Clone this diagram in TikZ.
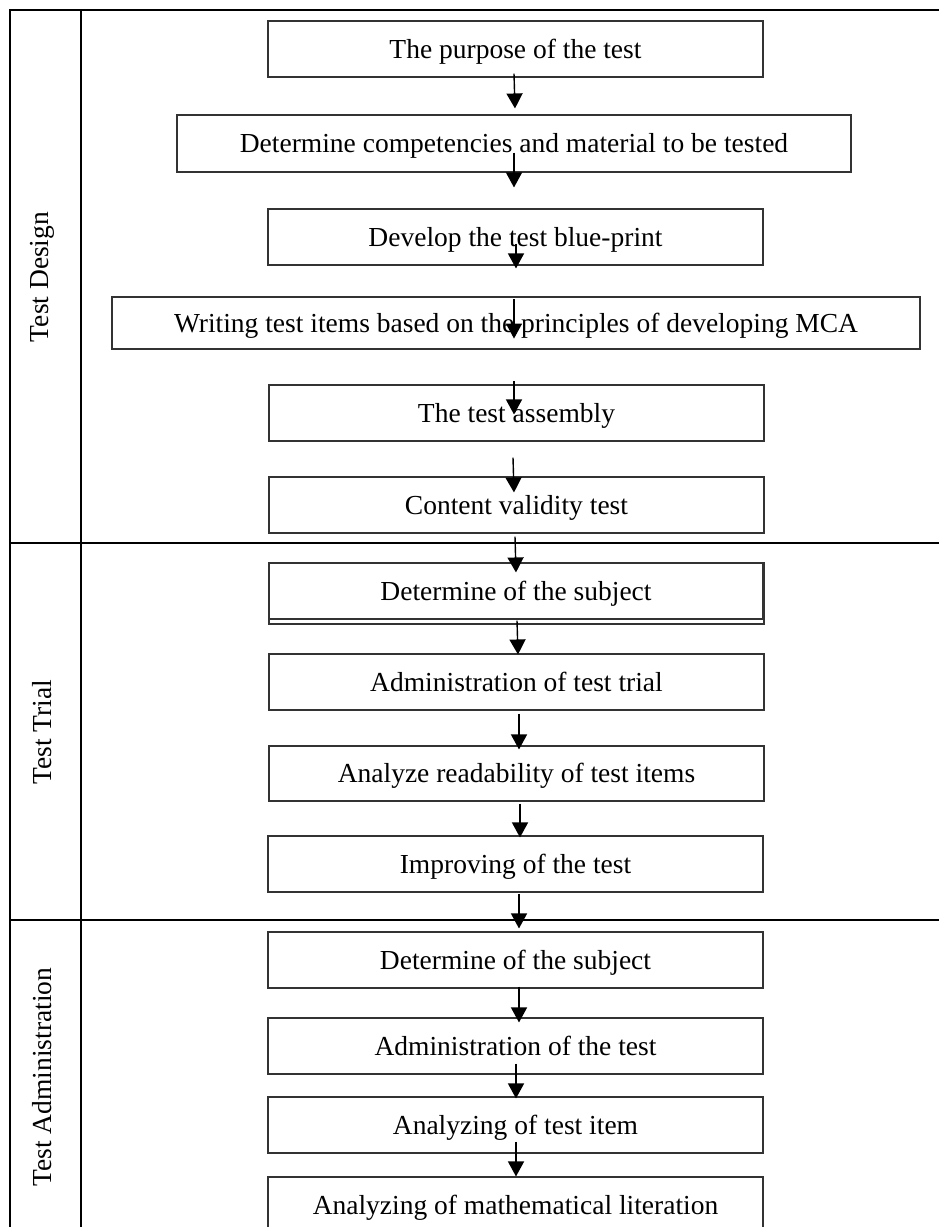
\documentclass[tikz,border=0pt]{standalone}
\usepackage{fontspec}
\setmainfont{Liberation Serif}
\usetikzlibrary{arrows.meta}
\begin{document}
\begin{tikzpicture}[x=1pt,y=-1pt,
  stepbox/.style={draw=black!80,line width=1.1pt,fill=white,inner sep=0pt,
    minimum height=56pt,text height=18.4pt,text depth=0pt,
    font=\fontsize{27.5}{33}\selectfont},
  narrow/.style={stepbox,minimum width=495pt},
  frame/.style={line width=1.7pt,black},
  arr/.style={line width=1.4pt,-{Triangle[length=15pt,width=16pt]}},
  lane/.style={rotate=90,font=\fontsize{27.5}{33}\selectfont,inner sep=0pt}]
\useasboundingbox (0,0) rectangle (939,1227);
\begin{scope}
\clip (0,0) rectangle (939,1227);
% frame
\draw[frame] (10,1227) -- (10,10) -- (939,10);
\draw[frame] (81,10) -- (81,1227);
\draw[frame] (10,543) -- (939,543);
\draw[frame] (10,920) -- (939,920);
% lane labels
\node[lane] (l1) at (42,277) {Test Design};
\node[lane] (l2) at (42,732) {Test Trial};
\node[lane] (l3) at (42,1077) {Test Administration};
% boxes
\node[narrow] (b1) at (515.5,49) {The purpose of the test};
\node[stepbox,minimum width=674pt,minimum height=57pt] (b2) at (514,143.5) {Determine competencies and material to be tested};
\node[narrow] (b3) at (515.5,237) {Develop the test blue-print};
\node[stepbox,minimum width=808pt,minimum height=52pt] (b4) at (516,323) {Writing test items based on the principles of developing MCA};
\node[narrow] (b5) at (516.5,413) {The test assembly};
\node[narrow] (b6) at (516.5,505) {Content validity test};
\draw[draw=black!80,line width=1.1pt,fill=white] (269,563) rectangle (764,624);
\node[stepbox,minimum width=494pt] (b7) at (516,591) {Determine of the subject};
\node[narrow] (b8) at (516.5,682) {Administration of test trial};
\node[narrow,minimum height=55pt] (b9) at (516.5,773.5) {Analyze readability of test items};
\node[narrow] (b10) at (515.5,864) {Improving of the test};
\node[narrow] (b11) at (515.5,960) {Determine of the subject};
\node[narrow] (b12) at (515.5,1046) {Administration of the test};
\node[narrow] (b13) at (515.5,1125) {Analyzing of test item};
\node[narrow] (b14) at (515.5,1205) {Analyzing of mathematical literation};
% arrows
\draw[arr] ([shift={(-1.5,-4)}]b1.south) -- ([shift={(1,-6)}]b2.north);
\draw[arr] ([shift={(0,-20)}]b2.south) -- ([shift={(-1.5,-21)}]b3.north);
\draw[arr] ([shift={(0.5,-22)}]b3.south) -- ([shift={(0,-28)}]b4.north);
\draw[arr] ([shift={(-2,3)}]b4.north) -- ([shift={(-2,-11)}]b4.south);
\draw[arr] ([shift={(-2.5,-3)}]b5.north) -- ([shift={(-2.5,30)}]b5.north);
\draw[arr] ([shift={(-3.5,16)}]b5.south) -- ([shift={(-2.5,16)}]b6.north);
\draw[arr] ([shift={(-1.5,3)}]b6.south) -- ([shift={(0,10)}]b7.north);
\draw[arr] ([shift={(1,1)}]b7.south) -- ([shift={(1.5,1)}]b8.north);
\draw[arr] ([shift={(2.5,3)}]b8.south) -- ([shift={(2.5,4)}]b9.north);
\draw[arr] ([shift={(3.5,2)}]b9.south) -- ([shift={(4.5,2)}]b10.north);
\draw[arr] ([shift={(3.5,1)}]b10.south) -- ([shift={(3.5,-3)}]b11.north);
\draw[arr] ([shift={(3.5,-2)}]b11.south) -- ([shift={(3.5,5)}]b12.north);
\draw[arr] ([shift={(0.5,-11)}]b12.south) -- ([shift={(0.5,2)}]b13.north);
\draw[arr] ([shift={(0.5,-12)}]b13.south) -- ([shift={(0.5,0)}]b14.north);
\end{scope}
\end{tikzpicture}
\end{document}
